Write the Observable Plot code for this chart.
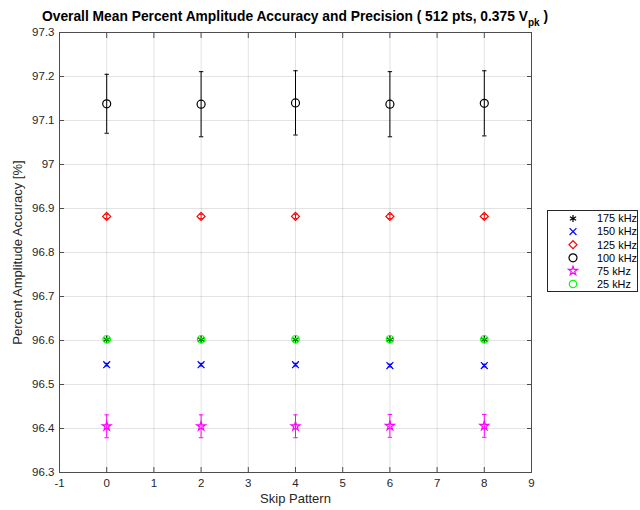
<!DOCTYPE html>
<html>
<head>
<meta charset="utf-8">
<script src="https://cdn.jsdelivr.net/npm/d3@7"></script>
<script src="https://cdn.jsdelivr.net/npm/@observablehq/plot@0.6"></script>
<style>
  html, body { margin: 0; padding: 0; background: #fff; }
  #chart { width: 640px; height: 510px; }
</style>
</head>
<body>
<div id="chart"></div>
<script>
// ---- data ----
const skipPattern = [0, 2, 4, 6, 8];
const seriesNames = ["175 kHz", "150 kHz", "125 kHz", "100 kHz", "75 kHz", "25 kHz"];
const mean175 = [96.602, 96.602, 96.602, 96.602, 96.602];
const err175  = [0.002, 0.002, 0.002, 0.002, 0.002];
const mean150 = [96.545, 96.545, 96.545, 96.543, 96.543];
const err150  = [0.003, 0.003, 0.003, 0.003, 0.003];
const mean125 = [96.882, 96.882, 96.882, 96.882, 96.882];
const err125  = [0.005, 0.005, 0.005, 0.005, 0.005];
const mean100 = [97.138, 97.137, 97.140, 97.137, 97.139];
const err100  = [0.067, 0.074, 0.073, 0.074, 0.074];
const mean75  = [96.405, 96.405, 96.405, 96.406, 96.406];
const err75   = [0.026, 0.026, 0.026, 0.026, 0.026];
const mean25  = [96.603, 96.603, 96.603, 96.603, 96.603];
const err25   = [0.002, 0.002, 0.002, 0.002, 0.002];
const xTicks = [-1, 0, 1, 2, 3, 4, 5, 6, 7, 8, 9];
const yTicks = [96.3, 96.4, 96.5, 96.6, 96.7, 96.8, 96.9, 97, 97.1, 97.2, 97.3];
const xDomain = [-1, 9];
const yDomain = [96.3, 97.3];

// ---- styling ----
const seriesStyle = [
  {color: "#000000", symbol: "asterisk", r: 3.4},
  {color: "#0000ff", symbol: "times", r: 3.2},
  {color: "#ff0000", symbol: "diamond2", r: 3.6},
  {color: "#000000", symbol: "circle", r: 4},
  {color: "#ff00ff", symbol: "star", r: 2.8},
  {color: "#00ff00", symbol: "circle", r: 3.7}
];
const means = [mean175, mean150, mean125, mean100, mean75, mean25];
const errs = [err175, err150, err125, err100, err75, err25];

const series = seriesNames.map((name, i) => ({
  name, ...seriesStyle[i],
  rows: skipPattern.map((x, j) => ({x, y: means[i][j], lo: means[i][j] - errs[i][j], hi: means[i][j] + errs[i][j]}))
}));

const capSymbol = {
  draw(context, size) {
    const r = Math.sqrt(size / Math.PI);
    context.moveTo(-r, 0);
    context.lineTo(r, 0);
  }
};

const axisColor = "#4d4d4d";
const font = "'Liberation Sans', Arial, Helvetica, sans-serif";

const marks = [
  Plot.gridX(xTicks, {stroke: "#262626", strokeOpacity: 0.13}),
  Plot.gridY(yTicks, {stroke: "#262626", strokeOpacity: 0.13}),
  Plot.frame({stroke: axisColor}),
  Plot.axisX(xTicks, {anchor: "bottom", tickSize: 0, tickPadding: 6, label: null, fill: "#262626",
    tickFormat: d => String(d)}),
  Plot.axisY(yTicks, {anchor: "left", tickSize: 0, tickPadding: 5, label: null, fill: "#262626",
    tickFormat: d => String(+d.toFixed(1))}),
  Plot.axisX(xTicks, {anchor: "bottom", tickSize: -5, tickFormat: () => "", label: null, stroke: axisColor}),
  Plot.axisX(xTicks, {anchor: "top", tickSize: -5, tickFormat: () => "", label: null, stroke: axisColor}),
  Plot.axisY(yTicks, {anchor: "left", tickSize: -5, tickFormat: () => "", label: null, stroke: axisColor}),
  Plot.axisY(yTicks, {anchor: "right", tickSize: -5, tickFormat: () => "", label: null, stroke: axisColor}),
  Plot.text(["Skip Pattern"], {frameAnchor: "bottom", dy: 30, fontSize: 13, fill: "#262626", textAnchor: "middle"}),
  Plot.text(["Percent Amplitude Accuracy [%]"], {frameAnchor: "left", dx: -42, rotate: -90, fontSize: 13, fill: "#262626", textAnchor: "middle"})
];

for (const s of series) {
  marks.push(Plot.ruleX(s.rows, {x: "x", y1: "lo", y2: "hi", stroke: s.color, strokeWidth: 1}));
  marks.push(Plot.dot(s.rows, {x: "x", y: "lo", symbol: capSymbol, r: 2.2, stroke: s.color, strokeWidth: 1}));
  marks.push(Plot.dot(s.rows, {x: "x", y: "hi", symbol: capSymbol, r: 2.2, stroke: s.color, strokeWidth: 1}));
  marks.push(Plot.dot(s.rows, {x: "x", y: "y", symbol: s.symbol, r: s.r, stroke: s.color, fill: "none", strokeWidth: 1.2}));
}

const plot = Plot.plot({
  width: 640,
  height: 510,
  marginLeft: 59,
  marginRight: 109,
  marginTop: 32,
  marginBottom: 38,
  style: {fontFamily: font, fontSize: "11.5px", background: "#fff", color: "#262626", overflow: "visible"},
  x: {domain: xDomain},
  y: {domain: yDomain},
  marks
});

const svg = d3.select(plot);

// Title with subscript
const title = svg.append("text")
  .attr("x", 295).attr("y", 21)
  .attr("text-anchor", "middle")
  .attr("font-family", font)
  .attr("font-weight", "bold")
  .attr("font-size", 13.8)
  .attr("fill", "#000");
title.append("tspan").text("Overall Mean Percent Amplitude Accuracy and Precision ( 512 pts, 0.375 V");
title.append("tspan").attr("dy", 5).attr("font-size", 10).text("pk");
title.append("tspan").attr("dy", -5).text(" )");

// Legend
const lg = svg.append("g").attr("font-family", font).attr("font-size", 10.9).attr("text-anchor", "start");
lg.append("rect").attr("x", 547.5).attr("y", 210.5).attr("width", 90).attr("height", 81)
  .attr("fill", "#fff").attr("stroke", "#262626").attr("stroke-width", 1);
const symMap = {asterisk: d3.symbolAsterisk, times: d3.symbolTimes, diamond2: d3.symbolDiamond2, circle: d3.symbolCircle, star: d3.symbolStar};
series.forEach((s, i) => {
  const yy = 218.5 + i * 13.1;
  lg.append("path")
    .attr("transform", `translate(573,${yy})`)
    .attr("d", d3.symbol(symMap[s.symbol], Math.PI * s.r * s.r)())
    .attr("fill", "none").attr("stroke", s.color).attr("stroke-width", 1.2);
  lg.append("text").attr("x", 597).attr("y", yy).attr("dy", "0.35em").attr("text-anchor", "start").attr("fill", "#000").text(s.name);
});

document.getElementById("chart").appendChild(plot);
</script>
</body>
</html>
